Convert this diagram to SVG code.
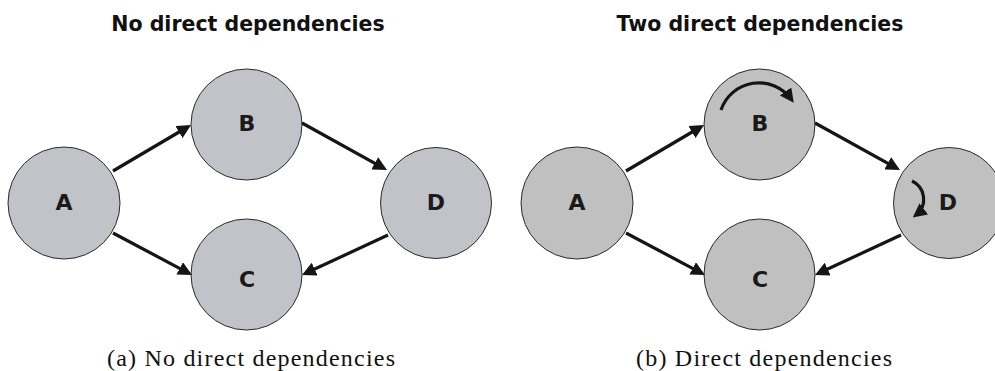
<svg xmlns="http://www.w3.org/2000/svg" width="995" height="371" viewBox="0 0 995 371">
<style>
.bg{fill:#ffffff}
.nl{fill:#c1c3c9;stroke:#2a2a2a;stroke-width:1}
.nr{fill:#c0c0c0;stroke:#2a2a2a;stroke-width:1}
.lbl{font-family:"DejaVu Sans",Verdana,sans-serif;font-weight:bold;font-size:22px;fill:#1a1a1a;text-anchor:middle}
.title{font-family:"DejaVu Sans",Verdana,sans-serif;font-weight:bold;font-size:20.5px;fill:#111;text-anchor:middle}
.cap{font-family:"Liberation Serif","Times New Roman",serif;font-size:24px;fill:#111;text-anchor:middle}
.edge{fill:none;stroke:#151515;stroke-width:3.2;marker-end:url(#ah)}
</style>
<defs>
<marker id="ah" viewBox="0 0 14 14" refX="10" refY="7" markerWidth="14" markerHeight="14" markerUnits="userSpaceOnUse" orient="auto">
<path d="M0,0 L14,7 L0,14 z" fill="#151515"/>
</marker>
</defs>
<rect class="bg" x="0" y="0" width="995" height="371"/>
<text class="title" x="248" y="31">No direct dependencies</text>
<text class="title" x="760" y="31">Two direct dependencies</text>
<g id="left-A"><circle class="nl" cx="64" cy="203" r="56"/><text class="lbl" x="64" y="210">A</text></g>
<g id="left-B"><circle class="nl" cx="246.5" cy="124.5" r="55.5"/><text class="lbl" x="247" y="131">B</text></g>
<g id="left-C"><circle class="nl" cx="246.5" cy="274.5" r="55.5"/><text class="lbl" x="247" y="287">C</text></g>
<g id="left-D"><circle class="nl" cx="436" cy="203" r="55.5"/><text class="lbl" x="436" y="210">D</text></g>
<g id="right-A"><circle class="nr" cx="577" cy="203" r="56"/><text class="lbl" x="577" y="210">A</text></g>
<g id="right-B"><circle class="nr" cx="759.5" cy="124.5" r="55.5"/><text class="lbl" x="760" y="131">B</text></g>
<g id="right-C"><circle class="nr" cx="759.5" cy="274.5" r="55.5"/><text class="lbl" x="760" y="287">C</text></g>
<g id="right-D"><circle class="nr" cx="949" cy="203" r="55.5"/><text class="lbl" x="948" y="210">D</text></g>
<g id="connectors">
<path class="edge" d="M113,171 L187.6,127"/>
<path class="edge" d="M302,123 L383.5,168.1"/>
<path class="edge" d="M113,233 L188.5,273.1"/>
<path class="edge" d="M388,235 L305.6,273.3"/>
<path class="edge" d="M626,171 L700.6,127"/>
<path class="edge" d="M815,123 L896.5,168.1"/>
<path class="edge" d="M626,233 L701.5,273.1"/>
<path class="edge" d="M901,235 L818.6,273.3"/>
<path class="edge" d="M721,110 A40,40 0 0 1 791.4,99.5"/>
<path class="edge" d="M912,181 A20,20 0 0 1 915.9,215"/>
</g>
<text class="cap" x="251" y="366" textLength="288" lengthAdjust="spacing">(a) No direct dependencies</text>
<text class="cap" x="764" y="366" textLength="256" lengthAdjust="spacing">(b) Direct dependencies</text>
</svg>
